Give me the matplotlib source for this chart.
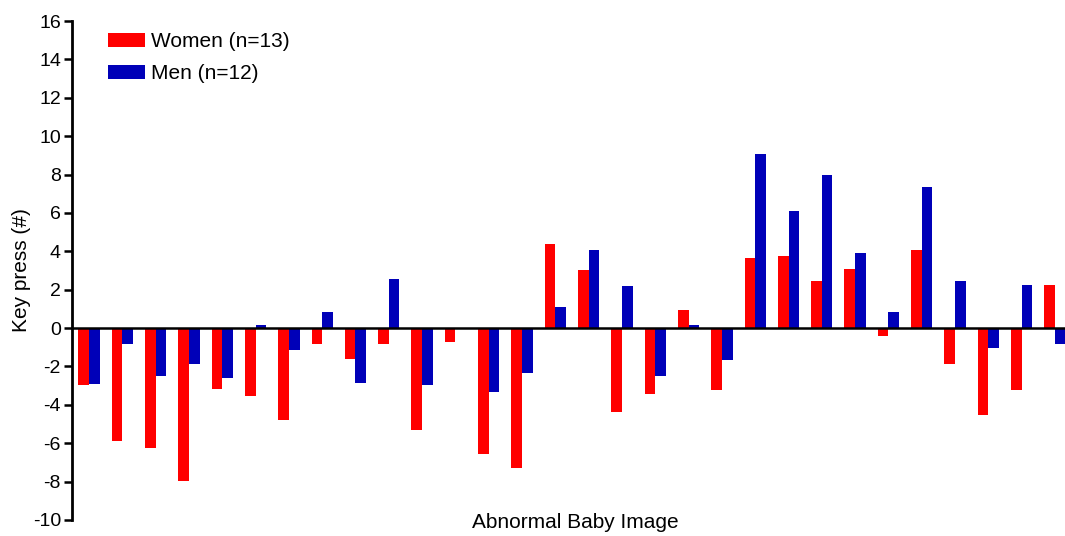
import numpy as np
import matplotlib
matplotlib.use('Agg')
import matplotlib.pyplot as plt

# key press difference per abnormal baby image
women = [-2.95, -5.87, -6.25, -7.99, -3.18, -3.56, -4.8, -0.83, -1.6, -0.83,
         -5.3, -0.73, -6.55, -7.29, 4.38, 3.04, -4.39, -3.42, 0.92, -3.21,
         3.65, 3.78, 2.43, 3.09, -0.4, 4.08, -1.88, -4.55, -3.25, 2.22]
men = [-2.9, -0.82, -2.52, -1.88, -2.6, 0.15, -1.13, 0.83, -2.87, 2.57,
       -2.95, 0.0, -3.35, -2.34, 1.09, 4.08, 2.17, -2.52, 0.15, -1.68,
       9.06, 6.09, 7.99, 3.9, 0.83, 7.33, 2.47, -1.04, 2.22, -0.82]
yticks = list(range(-10, 17, 2))

plt.rcParams['font.family'] = ['Liberation Sans', 'DejaVu Sans']
plt.rcParams['axes.unicode_minus'] = False

fig = plt.figure(figsize=(10.65, 5.36), dpi=100)
ax = fig.add_axes([72 / 1065, 1 - 520 / 536, 993 / 1065, 499 / 536])

x = np.arange(len(women))
w = 0.32
ax.bar(x - w / 2, women, width=w, color='#ff0000', label='Women (n=13)')
ax.bar(x + w / 2, men, width=w, color='#0000b8', label='Men (n=12)')
ax.axhline(0, color='black', lw=1.8, zorder=3)

ax.set_xlim(-0.51, 29.3)
ax.set_ylim(-10, 16)
ax.set_yticks(yticks)
ax.set_xticks([])
for s in ['top', 'right', 'bottom']:
    ax.spines[s].set_visible(False)
ax.spines['left'].set_linewidth(2)
ax.tick_params(axis='y', direction='out', length=6, width=1.8, labelsize=14, pad=2)

leg = ax.legend(loc='upper left', bbox_to_anchor=(0.017, 1.015), frameon=False,
                fontsize=15, handlelength=1.8, handleheight=0.7,
                handletextpad=0.3, labelspacing=0.62)

fig.text(575 / 1065, 1 - 522 / 536, 'Abnormal Baby Image', ha='center', va='center', fontsize=15)
fig.text(22 / 1065, 1 - 270 / 536, 'Key press (#)', ha='center', va='center',
         rotation=90, fontsize=15)

fig.savefig('out.png', dpi=100)
